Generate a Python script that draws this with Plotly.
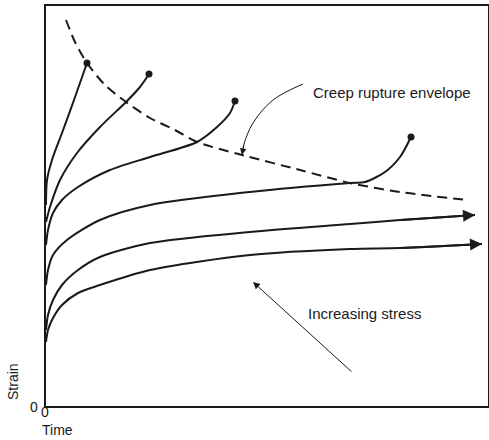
import plotly.graph_objects as go

# Creep curves (time, strain) in arbitrary units
c1_t = [0, 1, 6, 16, 28, 41]
c1_s = [201, 226, 246, 273, 306, 343]
c2_t = [0, 4, 14, 31, 54, 80, 94, 103]
c2_s = [184, 199, 226, 253, 279, 304, 319, 332]
c3_t = [0, 2, 7, 16, 32, 64, 104, 151, 171, 184, 189]
c3_s = [161, 176, 193, 206, 219, 236, 249, 264, 279, 293, 305]
c4_t = [0, 2, 7, 21, 54, 104, 204, 304, 319, 339, 354, 365]
c4_s = [121, 136, 151, 166, 186, 201, 214, 223, 224, 234, 249, 269]
c5_t = [0, 2, 7, 16, 32, 54, 104, 204, 304, 354, 429]
c5_s = [76, 91, 106, 121, 136, 149, 163, 174, 182, 186, 191]
c6_t = [0, 2, 7, 16, 32, 54, 104, 204, 304, 354, 436]
c6_s = [64, 76, 88, 101, 113, 121, 136, 151, 157, 158, 162]

# Creep rupture envelope
env_t = [20, 29, 41, 59, 80, 104, 129, 151, 196, 254, 304, 354, 421]
env_s = [386, 364, 343, 321, 304, 288, 276, 264, 251, 236, 223, 214, 206]

# Pointer from label to envelope
ptr_t = [257, 227, 207, 198, 196]
ptr_s = [322, 306, 283, 262, 251]

labels = ["Creep rupture envelope", "Increasing stress"]
label_pos_t = [265, 260]
label_pos_s = [314, 93]
stress_arrow_from = (307, 33)
stress_arrow_to = (207, 124)

# axis labels and origin tick labels (paper fractions)
axis_titles = ["Strain", "Time"]
tick_text = ["0", "0"]

FONT = "Liberation Sans, Arial, Helvetica, sans-serif"
BLACK = "#1a1a1a"

fig = go.Figure()

ruptured = [(c1_t, c1_s), (c2_t, c2_s), (c3_t, c3_s), (c4_t, c4_s)]
for t, s in ruptured:
    fig.add_trace(go.Scatter(x=t, y=s, mode="lines", line=dict(color=BLACK, width=2, shape="spline", smoothing=0.8),
                             hoverinfo="skip", showlegend=False))
    fig.add_trace(go.Scatter(x=[t[-1]], y=[s[-1]], mode="markers", marker=dict(color=BLACK, size=7),
                             hoverinfo="skip", showlegend=False))

for t, s in [(c5_t, c5_s), (c6_t, c6_s)]:
    fig.add_trace(go.Scatter(x=t, y=s, mode="lines", line=dict(color=BLACK, width=2, shape="spline", smoothing=0.8),
                             hoverinfo="skip", showlegend=False))
    fig.add_annotation(x=t[-1], y=s[-1], ax=t[-2], ay=s[-2], xref="x", yref="y", axref="x", ayref="y",
                       text="", showarrow=True, arrowhead=2, arrowsize=1.2, arrowwidth=2, arrowcolor=BLACK,
                       standoff=0)

fig.add_trace(go.Scatter(x=env_t, y=env_s, mode="lines",
                         line=dict(color=BLACK, width=2, dash="10px,6px", shape="spline", smoothing=0.8),
                         hoverinfo="skip", showlegend=False))

fig.add_trace(go.Scatter(x=ptr_t, y=ptr_s, mode="lines", line=dict(color=BLACK, width=1, shape="spline"),
                         hoverinfo="skip", showlegend=False))
fig.add_annotation(x=ptr_t[-1], y=ptr_s[-1], ax=ptr_t[-2], ay=ptr_s[-2], xref="x", yref="y", axref="x", ayref="y",
                   text="", showarrow=True, arrowhead=2, arrowsize=1.3, arrowwidth=1, arrowcolor=BLACK, standoff=0)

fig.add_annotation(x=stress_arrow_to[0], y=stress_arrow_to[1], ax=stress_arrow_from[0], ay=stress_arrow_from[1],
                   xref="x", yref="y", axref="x", ayref="y", text="", showarrow=True, arrowhead=2,
                   arrowsize=1.4, arrowwidth=1, arrowcolor=BLACK, standoff=0)

for txt, tx, sy in zip(labels, label_pos_t, label_pos_s):
    fig.add_annotation(x=tx, y=sy, xref="x", yref="y", text=txt, showarrow=False, xanchor="left",
                       yanchor="middle", font=dict(family=FONT, size=15, color=BLACK))

fig.add_annotation(x=-0.0747, y=0.0625, xref="paper", yref="paper", text=axis_titles[0], textangle=-90,
                   xanchor="center", yanchor="middle",
                   showarrow=False, font=dict(family=FONT, size=14, color=BLACK))
fig.add_annotation(x=0.0249, y=-0.06, xref="paper", yref="paper", text=axis_titles[1], showarrow=False,
                   xanchor="center", yanchor="middle",
                   font=dict(family=FONT, size=14, color=BLACK))
# origin labels
fig.add_annotation(x=-0.0272, y=-0.0025, xref="paper", yref="paper", text=tick_text[0], showarrow=False,
                   xanchor="center", yanchor="middle", font=dict(family=FONT, size=14, color=BLACK))
fig.add_annotation(x=-0.003, y=-0.016, xref="paper", yref="paper", text=tick_text[1], showarrow=False,
                   xanchor="center", yanchor="middle", font=dict(family=FONT, size=14, color=BLACK))

fig.update_xaxes(range=[0, 442], showgrid=False, zeroline=False, showline=True, linecolor=BLACK, linewidth=1.5,
                 mirror=True, showticklabels=False, ticks="", automargin=False)
fig.update_yaxes(range=[0, 400], showgrid=False, zeroline=False, showline=True, linecolor=BLACK, linewidth=1.5,
                 mirror=True, showticklabels=False, ticks="", automargin=False)

fig.update_layout(width=489, height=440, margin=dict(l=46, r=1, t=6, b=34, autoexpand=False),
                  paper_bgcolor="white", plot_bgcolor="white", showlegend=False)

fig.write_html("out.html", config={"displayModeBar": False},
               post_script="document.body.style.margin='0';document.body.style.overflow='hidden';")
